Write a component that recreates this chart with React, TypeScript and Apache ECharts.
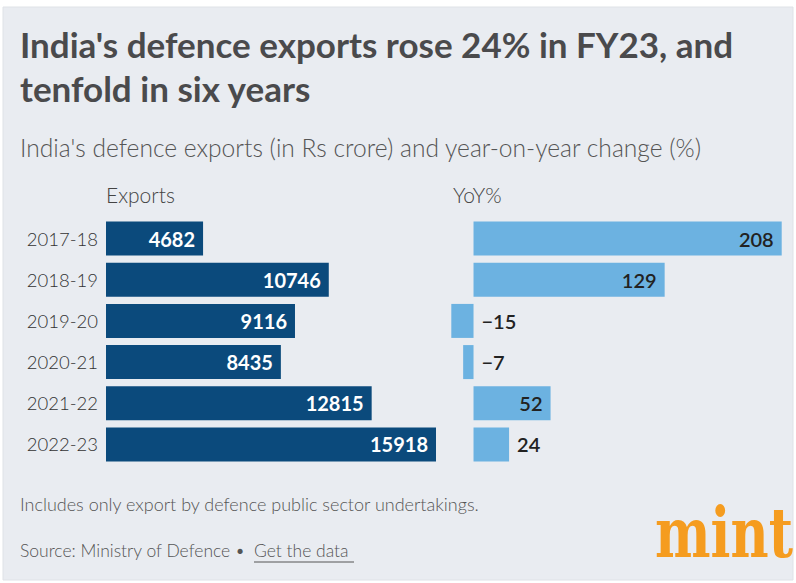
import React, { useEffect, useRef } from "react";
import * as echarts from "echarts";

const categories = ["2017-18", "2018-19", "2019-20", "2020-21", "2021-22", "2022-23"];
const exportsValues = [4682, 10746, 9116, 8435, 12815, 15918];
const yoyValues = [208, 129, -15, -7, 52, 24];

const TITLE_1 = "India's defence exports rose 24% in FY23, and";
const TITLE_2 = "tenfold in six years";
const SUBTITLE = "India's defence exports (in Rs crore) and year-on-year change (%)";
const NOTE = "Includes only export by defence public sector undertakings.";
const SOURCE = "Source: Ministry of Defence •";
const LINK = "Get the data";

const FONT = "Lato, 'Open Sans', sans-serif";

export default function App() {
  const ref = useRef<HTMLDivElement>(null);
  useEffect(() => {
    if (!ref.current) return;
    const chart = echarts.init(ref.current, null, { renderer: "svg" });
    const yoyLabelPos = (v: number) => (v < 40 ? "right" : "insideRight");
    chart.setOption({
      animation: false,
      backgroundColor: "#ffffff",
      textStyle: { fontFamily: FONT },
      grid: [
        { left: 106, top: 218, width: 330, height: 247 },
        { left: 451.3, top: 218, width: 330.4, height: 247 },
      ],
      xAxis: [
        { gridIndex: 0, type: "value", min: 0, max: 15918, show: false },
        { gridIndex: 1, type: "value", min: -15, max: 208, show: false },
      ],
      yAxis: [
        {
          gridIndex: 0,
          type: "category",
          data: categories,
          inverse: true,
          axisLine: { show: false },
          axisTick: { show: false },
          axisLabel: { color: "#333333", fontSize: 18.5, fontWeight: 300, margin: 8, fontFamily: FONT },
        },
        {
          gridIndex: 1,
          type: "category",
          data: categories,
          inverse: true,
          show: false,
        },
      ],
      graphic: [
        {
          type: "rect",
          z: -10,
          silent: true,
          shape: { x: 3, y: 7, width: 790, height: 573 },
          style: { fill: "#e9ecf1", stroke: "#dfe2e7", lineWidth: 1 },
        },
        {
          type: "text",
          left: 20,
          top: 26,
          style: { text: TITLE_1, fill: "#4a4a4c", font: `bold 35px ${FONT}` },
        },
        {
          type: "text",
          left: 20,
          top: 70,
          style: { text: TITLE_2, fill: "#4a4a4c", font: `bold 35px ${FONT}` },
        },
        {
          type: "text",
          left: 20,
          top: 135,
          style: { text: SUBTITLE, fill: "#555555", font: `300 24.6px ${FONT}` },
        },
        {
          type: "text",
          left: 106,
          top: 184,
          style: { text: "Exports", fill: "#444444", font: `300 21px ${FONT}` },
        },
        {
          type: "text",
          left: 453,
          top: 184,
          style: { text: "YoY%", fill: "#444444", font: `300 21px ${FONT}` },
        },
        {
          type: "text",
          left: 20,
          top: 495,
          style: { text: NOTE, fill: "#555555", font: `300 18px ${FONT}` },
        },
        {
          type: "text",
          left: 20,
          top: 541,
          style: { text: SOURCE, fill: "#555555", font: `300 17.5px ${FONT}` },
        },
        {
          type: "text",
          left: 254,
          top: 541,
          style: { text: LINK, fill: "#555555", font: `300 17.5px ${FONT}` },
        },
        {
          type: "line",
          shape: { x1: 254, y1: 562, x2: 354, y2: 562 },
          style: { stroke: "#555555", lineWidth: 1 },
        },
        {
          type: "text",
          left: 655,
          top: 498,
          scaleX: 0.75,
          style: { text: "mint", fill: "#f59c1f", font: `bold 70px 'DejaVu Serif', serif` },
        },
      ],
      series: [
        {
          type: "bar",
          xAxisIndex: 0,
          yAxisIndex: 0,
          data: exportsValues,
          barWidth: 34,
          itemStyle: { color: "#0b4a7c" },
          label: {
            show: true,
            position: "insideRight",
            distance: 8,
            color: "#ffffff",
            fontWeight: "bold",
            fontSize: 20,
            fontFamily: FONT,
          },
        },
        {
          type: "bar",
          xAxisIndex: 1,
          yAxisIndex: 1,
          barWidth: 34,
          data: yoyValues.map((v) => ({
            value: v,
            label: { position: yoyLabelPos(v) },
          })),
          itemStyle: { color: "#6cb2e1" },
          label: {
            show: true,
            distance: 8,
            color: "#222222",
            fontSize: 20,
            fontWeight: 600,
            fontFamily: FONT,
            formatter: (p: any) => (p.value < 0 ? "\u2212" + Math.abs(p.value) : String(p.value)),
          },
        },
      ],
    });
    return () => chart.dispose();
  }, []);
  return (
    <div
      ref={ref}
      style={{ position: "absolute", left: 0, top: 0, width: 796, height: 583 }}
    />
  );
}
